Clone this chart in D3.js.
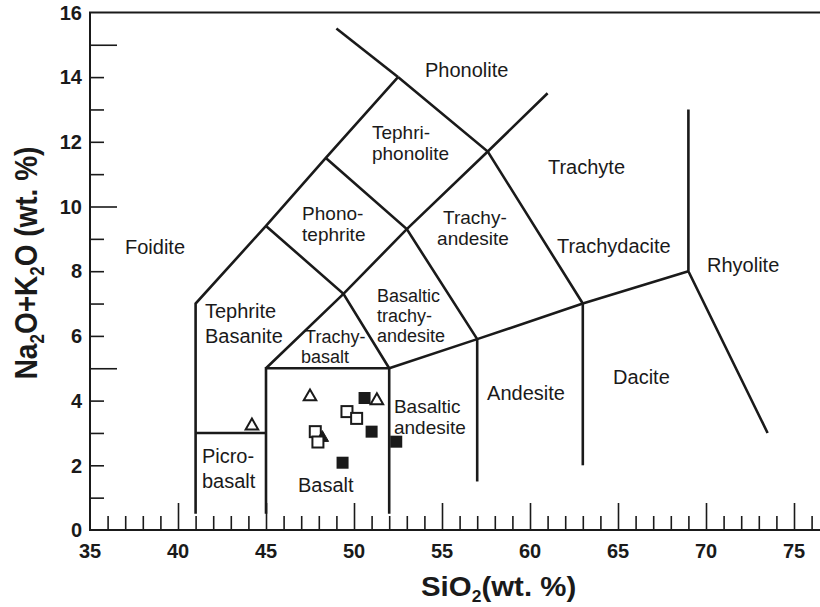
<!DOCTYPE html>
<html>
<head>
<meta charset="utf-8">
<script src="https://cdn.jsdelivr.net/npm/d3@7/dist/d3.min.js"></script>
<style>
  html, body { margin: 0; padding: 0; background: #fff; }
  svg { display: block; }
  text { font-family: "Liberation Sans", Arial, Helvetica, sans-serif; fill: #1a1a1a; }
</style>
</head>
<body>
<svg id="chart" width="820" height="607"></svg>
<script>
// ---------------- data ----------------
const xTickLabels = [35, 40, 45, 50, 55, 60, 65, 70, 75];
const yTickLabels = [0, 2, 4, 6, 8, 10, 12, 14, 16];

// TAS field boundaries (SiO2, Na2O+K2O)
const boundaryLines = [
  [[41, 0.5], [41, 7], [45, 9.4], [48.4, 11.5], [52.5, 14]],
  [[52.5, 14], [49, 15.5]],
  [[41, 3], [45, 3]],
  [[45, 0.5], [45, 5], [52, 5], [52, 0.5]],
  [[45, 5], [49.4, 7.3], [53, 9.3], [57.6, 11.7], [61, 13.5]],
  [[45, 9.4], [49.4, 7.3], [52, 5]],
  [[48.4, 11.5], [53, 9.3], [57, 5.9]],
  [[52.5, 14], [57.6, 11.7], [63, 7]],
  [[52, 5], [57, 5.9], [63, 7], [69, 8]],
  [[57, 5.9], [57, 1.5]],
  [[63, 7], [63, 2]],
  [[69, 13], [69, 8], [73.5, 3]]
];

// field names (lines of text)
const fieldNames = [
  ["Foidite"], ["Phonolite"], ["Tephri-", "phonolite"], ["Trachyte"],
  ["Phono-", "tephrite"], ["Trachy-", "andesite"], ["Trachydacite"], ["Rhyolite"],
  ["Tephrite", "Basanite"], ["Basaltic", "trachy-", "andesite"], ["Trachy-", "basalt"],
  ["Basaltic", "andesite"], ["Andesite"], ["Dacite"], ["Picro-", "basalt"], ["Basalt"]
];

// samples
const openTriangles   = [[44.2, 3.22], [47.5, 4.12], [51.3, 4.0]];
const filledTriangles = [[48.2, 2.85]];
const openSquares     = [[47.8, 3.04], [49.6, 3.66], [50.15, 3.45], [47.95, 2.72]];
const filledSquares   = [[50.6, 4.08], [51.0, 3.04], [49.35, 2.08], [52.4, 2.73]];

// ---------------- layout ----------------
// label anchor for every line of every field name, in data units (left / baseline)
const labelLayout = [
  [[36.99, 8.53]], [[54.03, 14.0]], [[51.02, 12.086], [51.02, 11.437]], [[61.02, 11.0]],
  [[47.05, 9.583], [47.05, 8.934]], [[55.06, 9.459], [54.72, 8.810]], [[61.53, 8.56]], [[70.06, 7.98]],
  [[41.53, 6.55], [41.53, 5.78]], [[51.31, 7.048], [51.31, 6.430], [51.31, 5.811]], [[47.22, 5.781], [46.99, 5.162]],
  [[52.27, 3.617], [52.27, 2.968]], [[57.56, 4.02]], [[64.72, 4.51]], [[41.36, 2.07], [41.36, 1.30]], [[46.82, 1.17]]
];
const labelSize = [20, 20, 19, 20, 19, 19, 20, 20, 20, 18, 18, 19, 20, 20, 20, 20];

const svg = d3.select("#chart");
const x = d3.scaleLinear().domain([35, 35 + 730 / 17.6]).range([90, 820]);
const y = d3.scaleLinear().domain([0, 16]).range([530, 12.4]);
const ink = "#1a1a1a";

// frame: left, top
svg.append("line").attr("x1", x(35)).attr("x2", x(35)).attr("y1", y(16)).attr("y2", y(0))
  .attr("stroke", ink).attr("stroke-width", 2);
svg.append("line").attr("x1", x(35) - 1).attr("x2", 820).attr("y1", y(16)).attr("y2", y(16))
  .attr("stroke", ink).attr("stroke-width", 2);

// x axis
const xMinor = d3.range(36, 77, 1);
const xAxis = d3.axisBottom(x).tickValues(xMinor).tickSize(0).tickFormat("");
const gx = svg.append("g").attr("transform", `translate(0,${y(0)})`).call(xAxis);
gx.select(".domain").attr("stroke", ink).attr("stroke-width", 2).attr("d", `M${x(35) - 1},0H820`);
gx.selectAll(".tick line").attr("stroke", ink).attr("stroke-width", 1.6)
  .attr("y2", d => (d % 5 === 0 ? -27 : -14));
svg.append("g").selectAll("text").data(xTickLabels).join("text")
  .attr("x", d => x(d)).attr("y", 558).attr("text-anchor", "middle")
  .attr("font-size", 20).attr("font-weight", "bold").text(d => d);

// y axis
const yMinor = d3.range(1, 16, 1);
const yAxis = d3.axisLeft(y).tickValues(yMinor).tickSize(0).tickFormat("");
const gy = svg.append("g").attr("transform", `translate(${x(35)},0)`).call(yAxis);
gy.select(".domain").remove();
gy.selectAll(".tick line").attr("stroke", ink).attr("stroke-width", 1.6)
  .attr("x2", d => (d % 5 === 0 ? 27 : 14));
svg.append("g").selectAll("text").data(yTickLabels).join("text")
  .attr("x", 82).attr("y", d => y(d)).attr("dy", "0.36em").attr("text-anchor", "end")
  .attr("font-size", 20).attr("font-weight", "bold").text(d => d);

// boundaries
const line = d3.line().x(d => x(d[0])).y(d => y(d[1]));
svg.append("g").selectAll("path").data(boundaryLines).join("path")
  .attr("d", line).attr("fill", "none").attr("stroke", ink)
  .attr("stroke-width", 2.6).attr("stroke-linejoin", "miter").attr("stroke-linecap", "butt");

// field labels: one text element per field, one tspan per line
svg.append("g").selectAll("text").data(fieldNames).join("text")
  .attr("font-size", (d, i) => labelSize[i])
  .each(function (lines, i) {
    const t = d3.select(this);
    lines.forEach((s, j) => {
      const p = labelLayout[i][j];
      t.append("tspan").attr("x", x(p[0])).attr("y", y(p[1])).text(s);
    });
  });

// samples
const tri = d3.symbol().type(d3.symbolTriangle).size(68);
const sq = 11;
const sg = svg.append("g");
sg.selectAll(".ot").data(openTriangles).join("path").attr("class", "ot")
  .attr("d", tri).attr("transform", d => `translate(${x(d[0])},${y(d[1])})`)
  .attr("fill", "#fff").attr("stroke", ink).attr("stroke-width", 2);
sg.selectAll(".fs").data(filledSquares).join("rect").attr("class", "fs")
  .attr("x", d => x(d[0]) - 6).attr("y", d => y(d[1]) - 6).attr("width", 12).attr("height", 12)
  .attr("fill", ink);
sg.selectAll(".os").data(openSquares.slice(0, 3)).join("rect").attr("class", "os")
  .attr("x", d => x(d[0]) - sq / 2).attr("y", d => y(d[1]) - sq / 2).attr("width", sq).attr("height", sq)
  .attr("fill", "#fff").attr("stroke", ink).attr("stroke-width", 2);
sg.selectAll(".ft").data(filledTriangles).join("path").attr("class", "ft")
  .attr("d", tri).attr("transform", d => `translate(${x(d[0])},${y(d[1])})`)
  .attr("fill", ink).attr("stroke", ink).attr("stroke-width", 1);
sg.selectAll(".os2").data(openSquares.slice(3)).join("rect").attr("class", "os2")
  .attr("x", d => x(d[0]) - sq / 2).attr("y", d => y(d[1]) - sq / 2).attr("width", sq).attr("height", sq)
  .attr("fill", "#fff").attr("stroke", ink).attr("stroke-width", 2);

// axis titles
const xt = svg.append("text").attr("transform", "translate(421,596) scale(1.09,1)")
  .attr("font-size", 27).attr("font-weight", "bold");
xt.append("tspan").text("SiO");
xt.append("tspan").attr("font-size", 16).attr("dy", 6).text("2");
xt.append("tspan").attr("dy", -6).text("(wt. %)");

const yt = svg.append("text").attr("transform", "translate(37,263) scale(1.15,1) rotate(-90)")
  .attr("text-anchor", "middle").attr("font-size", 28).attr("font-weight", "bold");
yt.append("tspan").text("Na");
yt.append("tspan").attr("font-size", 17).attr("dy", 6).text("2");
yt.append("tspan").attr("dy", -6).text("O+K");
yt.append("tspan").attr("font-size", 17).attr("dy", 6).text("2");
yt.append("tspan").attr("dy", -6).text("O (wt. %)");
</script>
</body>
</html>
